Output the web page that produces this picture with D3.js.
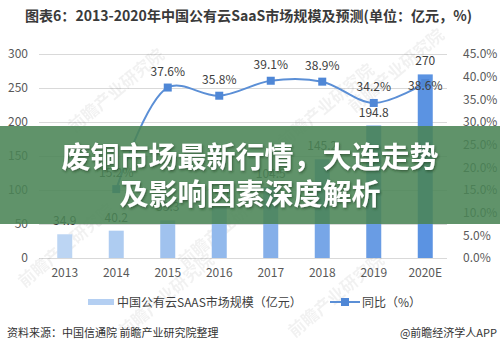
<!DOCTYPE html>
<html><head><meta charset="utf-8">
<script src="https://cdn.jsdelivr.net/npm/d3@7"></script>
<style>
html,body{margin:0;padding:0;background:#fff;}
svg{display:block;font-family:"Noto Sans CJK SC","Noto Sans",sans-serif;}
</style></head>
<body><svg id="c" width="500" height="350"></svg>
<script>
const years = ["2013","2014","2015","2016","2017","2018","2019","2020E"];
const marketSize = [34.9, 40.2, 55.3, 75.1, 104.5, 145.2, 194.8, 270];
const growth = [null, 15.2, 37.6, 35.8, 39.1, 38.9, 34.2, 38.6];
const leftTicks = [0, 50, 100, 150, 200, 250, 300];
const rightTicks = [0, 5, 10, 15, 20, 25, 30, 35, 40, 45];
const titleText = "图表6：2013-2020年中国公有云SaaS市场规模及预测(单位：亿元，%)";
const legendBar = "中国公有云SAAS市场规模（亿元）";
const legendLine = "同比（%）";
const sourceText = "资料来源：中国信通院 前瞻产业研究院整理";
const creditText = "@前瞻经济学人APP";
const bannerLines = ["废铜市场最新行情，大连走势", "及影响因素深度解析"];
const watermark = "前瞻产业研究院";

const svg = d3.select("#c");
const x = d3.scaleBand().domain(years).range([39, 451]);
const yL = d3.scaleLinear().domain([0, 300]).range([258, 54]);
const yR = d3.scaleLinear().domain([0, 45]).range([258, 54]);

// defs
const defs = svg.append("defs");
const f = defs.append("filter").attr("id","sh").attr("x","-10%").attr("y","-10%").attr("width","120%").attr("height","130%");
f.append("feDropShadow").attr("dx",1).attr("dy",1.5).attr("stdDeviation",1.2).attr("flood-color","#1d3a22").attr("flood-opacity",0.6);

// title
svg.append("text").attr("x", 25).attr("y", 21).attr("font-size", 14).attr("font-weight", "bold")
  .attr("fill", "#3a3a3a").attr("textLength", 447).attr("lengthAdjust","spacingAndGlyphs").text(titleText);

// gridlines + left axis
const gL = svg.append("g").attr("transform", "translate(39,0)")
  .call(d3.axisLeft(yL).tickValues(leftTicks).tickSize(-408).tickPadding(11));
gL.select(".domain").remove();
gL.selectAll("line").attr("stroke", "#d9d9d9");
gL.selectAll("text").attr("fill", "#595959").attr("font-size", 12).attr("font-family", "'Noto Sans CJK SC',sans-serif");

// right axis
const gR = svg.append("g").attr("transform", "translate(455,0)")
  .call(d3.axisRight(yR).tickValues(rightTicks).tickSize(0).tickPadding(8).tickFormat(d => d.toFixed(1) + "%"));
gR.select(".domain").remove();
gR.selectAll("text").attr("fill", "#595959").attr("font-size", 12).attr("font-family", "'Noto Sans CJK SC',sans-serif");

// x axis
const gX = svg.append("g").attr("transform", "translate(0,258)")
  .call(d3.axisBottom(x).tickSize(0).tickPadding(10));
gX.select(".domain").remove();
gX.selectAll("text").attr("fill", "#595959").attr("font-size", 12).attr("font-family", "'Noto Sans CJK SC',sans-serif");

// watermarks
const wm = [[120,95,-40],[330,110,-40],[400,75,-40],[170,300,-40],[340,300,-40],[70,250,-40],[230,230,-40]];
wm.forEach(([wx,wy,r]) => {
  svg.append("text").attr("transform", `translate(${wx},${wy}) rotate(${r})`).attr("text-anchor","middle")
    .attr("font-size", 17).attr("font-weight","bold").attr("fill", "#000").attr("opacity", 0.05).text(watermark);
});

// bars
const barColor = d3.scaleLinear().domain([0, years.length - 1]).range(["#bcd5f3", "#5b93e2"]);
const bw = 15;
svg.append("g").selectAll("rect").data(marketSize).join("rect")
  .attr("x", (d, i) => x(years[i]) + x.bandwidth() / 2 - bw / 2)
  .attr("y", d => yL(d)).attr("width", bw).attr("height", d => yL(0) - yL(d))
  .attr("fill", (d, i) => barColor(i));

svg.append("g").selectAll("text").data(marketSize).join("text")
  .attr("x", (d, i) => x(years[i]) + x.bandwidth() / 2)
  .attr("y", d => yL(d) - 9).attr("text-anchor", "middle").attr("font-size", 12).attr("fill", "#404040")
  .text(d => d);

// line
const pts = growth.map((g, i) => ({ g, i })).filter(p => p.g !== null);
const line = d3.line().x(p => x(years[p.i]) + x.bandwidth() / 2).y(p => yR(p.g)).curve(d3.curveCatmullRom.alpha(0.5));
svg.append("path").datum(pts).attr("d", line).attr("fill", "none").attr("stroke", "#5b8fd6").attr("stroke-width", 2);
svg.append("g").selectAll("rect").data(pts).join("rect")
  .attr("x", p => x(years[p.i]) + x.bandwidth() / 2 - 4).attr("y", p => yR(p.g) - 4)
  .attr("width", 8).attr("height", 8).attr("fill", "#4f87d6");
svg.append("g").selectAll("text").data(pts).join("text")
  .attr("x", p => x(years[p.i]) + x.bandwidth() / 2)
  .attr("y", p => p.i === years.length - 1 ? yR(p.g) + 7 : yR(p.g) - 12)
  .attr("text-anchor", "middle").attr("font-size", 12).attr("fill", "#404040")
  .text(p => p.g.toFixed(1) + "%");

// legend
svg.append("rect").attr("x", 88).attr("y", 299).attr("width", 26).attr("height", 6).attr("fill", "#b4cff2");
svg.append("text").attr("x", 117).attr("y", 307).attr("font-size", 12).attr("fill", "#404040").text(legendBar);
svg.append("line").attr("x1", 330).attr("x2", 360).attr("y1", 302).attr("y2", 302).attr("stroke", "#5b8fd6").attr("stroke-width", 2);
svg.append("rect").attr("x", 341).attr("y", 298).attr("width", 8).attr("height", 8).attr("fill", "#4f87d6");
svg.append("text").attr("x", 362).attr("y", 307).attr("font-size", 12).attr("fill", "#404040").text(legendLine);

// source
svg.append("text").attr("x", 7).attr("y", 337).attr("font-size", 11).attr("fill", "#333").text(sourceText);
svg.append("text").attr("x", 497).attr("y", 337).attr("text-anchor", "end").attr("font-size", 11).attr("fill", "#333").text(creditText);

// banner overlay
svg.append("rect").attr("x", 0).attr("y", 126).attr("width", 500).attr("height", 98)
  .attr("fill", "#4a8455").attr("opacity", 0.88);
svg.append("g").selectAll("text").data(bannerLines).join("text")
  .attr("x", 250).attr("y", (d, i) => 168 + i * 37).attr("text-anchor", "middle")
  .attr("font-size", 29).attr("font-weight", "bold").attr("fill", "#fff").attr("filter", "url(#sh)")
  .text(d => d);
</script></body></html>
